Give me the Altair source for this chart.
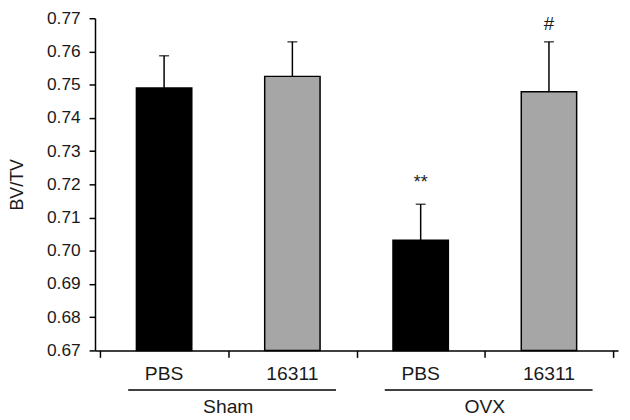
import altair as alt
import pandas as pd

groups = ["Sham", "Sham", "OVX", "OVX"]
treatments = ["PBS", "16311", "PBS", "16311"]
values = [0.749, 0.7525, 0.7032, 0.7479]
errors = [0.0097, 0.0104, 0.0108, 0.0150]
marks = ["", "", "**", "#"]
y_ticks = [0.67, 0.68, 0.69, 0.70, 0.71, 0.72, 0.73, 0.74, 0.75, 0.76, 0.77]
group_names = ["Sham", "OVX"]

FONT = "Liberation Sans"
TXT = "#1a1a1a"
H = 336
W = 529

pos = [i + 0.5 for i in range(len(values))]
df = pd.DataFrame({
    "group": groups,
    "treatment": treatments,
    "pos": pos,
    "value": values,
    "top": [v + e for v, e in zip(values, errors)],
    "mark": marks,
})
gdf = pd.DataFrame({
    "group": group_names,
    "center": [1.0, 3.0],
})
gdf["x1"] = gdf["center"] - 0.78
gdf["x2"] = gdf["center"] + 0.84

xscale = alt.Scale(domain=[0, 4], nice=False, zero=False)
yscale = alt.Scale(domain=[0.67, 0.77], nice=False, zero=False)

x_axis = alt.Axis(values=[0, 1, 2, 3, 4], labels=False, title=None,
                  grid=False, tickSize=7, tickColor="black",
                  domainColor="black", domainWidth=1.5, tickWidth=1.5)
y_axis = alt.Axis(values=y_ticks, format=".2f", title="BV/TV", grid=False,
                  tickSize=6, tickColor="black", domainColor="black",
                  domainWidth=1.5, tickWidth=1.5, labelFont=FONT,
                  labelFontSize=17.5, labelColor=TXT, labelPadding=9,
                  labelOverlap=False, labelFlush=False,
                  titleFont=FONT, titleFontSize=18, titleFontWeight="normal",
                  titleColor=TXT, titleAngle=-90, titleX=-78, titleY=H / 2,
                  titleAlign="center", titleBaseline="middle")


def X(field):
    return alt.X(field, scale=xscale, axis=x_axis)


def Y(field):
    return alt.Y(field, scale=yscale, axis=y_axis, title="BV/TV")


base = alt.Chart(df)

bars = base.mark_bar(size=56, stroke="black", strokeWidth=1.5).encode(
    x=X("pos:Q"),
    y=Y("value:Q"),
    y2=alt.datum(0.67),
    color=alt.Color("treatment:N",
                    scale=alt.Scale(domain=["PBS", "16311"], range=["#000000", "#a6a6a6"]),
                    legend=None),
)

err = base.mark_rule(color="black", strokeWidth=1.5).encode(
    x=X("pos:Q"), y=Y("value:Q"), y2="top:Q",
)
cap = base.mark_tick(orient="horizontal", size=10, thickness=1.5, color="black").encode(
    x=X("pos:Q"), y=Y("top:Q"),
)

star = base.transform_filter(alt.datum.mark == "**").mark_text(
    font=FONT, fontSize=18, color=TXT, baseline="alphabetic", dy=-16).encode(
    x=X("pos:Q"), y=Y("top:Q"), text="mark:N",
)
hashm = base.transform_filter(alt.datum.mark == "#").mark_text(
    font=FONT, fontSize=19, color=TXT, baseline="alphabetic", dy=-12).encode(
    x=X("pos:Q"), y=Y("top:Q"), text="mark:N",
)

sub_labels = base.mark_text(font=FONT, fontSize=19.5, color=TXT,
                            baseline="alphabetic", clip=False).encode(
    x=X("pos:Q"), y=alt.value(H + 30), text="treatment:N",
)

glines = alt.Chart(gdf).mark_rule(color="black", strokeWidth=1.5, clip=False).encode(
    x=X("x1:Q"), x2="x2:Q", y=alt.value(H + 40),
)
glabels = alt.Chart(gdf).mark_text(font=FONT, fontSize=19.5, color=TXT,
                                   baseline="alphabetic", clip=False).encode(
    x=X("center:Q"), y=alt.value(H + 63), text="group:N",
)

chart = alt.layer(bars, err, cap, star, hashm, sub_labels, glines, glabels).properties(
    width=W, height=H,
    autosize=alt.AutoSizeParams(type="none"),
    padding={"left": 88, "top": 8, "right": 4, "bottom": 68},
).configure(
    background="white",
    view=alt.ViewConfig(strokeWidth=0, stroke="transparent"),
)

chart.save("out.html", embed_options={"renderer": "svg", "actions": False})
